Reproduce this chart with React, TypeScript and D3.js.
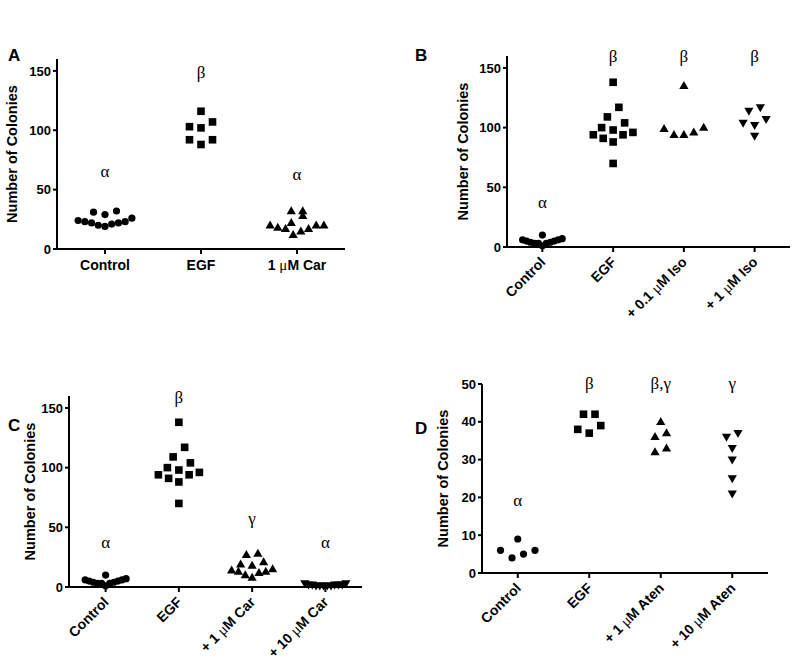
import React from 'react';
import * as d3 from 'd3';

// panel A
const aCategories = ['Control', 'EGF', '1 μM Car'];
const aControl = [26, 23, 31, 22, 22, 29, 19, 20, 32, 21, 23, 24];
const aEgf = [116, 107, 103, 102, 92, 92, 88];
const aCar = [20, 18, 17, 28, 12, 32, 22, 15, 17, 32, 20, 20];
const aLetters = ['α', 'β', 'α'];
const aLetterY = [61, 144, 58];

// panel B
const bCategories = ['Control', 'EGF', '+ 0.1 μM Iso', '+ 1 μM Iso'];
const bControl = [6, 5, 4, 7, 3, 3, 1, 10, 3, 4, 5, 6];
const bEgf = [138, 117, 109, 104, 100, 98, 96, 94, 94, 91, 88, 70];
const bIso01 = [135, 100, 96, 94, 94, 99];
const bIso1 = [114, 117, 107, 104, 102, 93];
const bLetters = ['α', 'β', 'β', 'β'];
const bLetterY = [33, 155, 155, 155];

// panel C
const cCategories = ['Control', 'EGF', '+ 1 μM Car', '+ 10 μM Car'];
const cControl = [6, 5, 4, 7, 3, 3, 1, 10, 3, 4, 5, 6];
const cEgf = [138, 117, 109, 104, 100, 98, 96, 94, 94, 91, 88, 70];
const cCar1 = [28, 27, 21, 19, 18, 15, 14, 13, 13, 12, 10, 8];
const cCar10 = [1, 2, 1, 3, 2, 1, 2, 3, 1, 2, 1, 2];
const cLetters = ['α', 'β', 'γ', 'α'];
const cLetterY = [33, 154, 53, 33];

// panel D
const dCategories = ['Control', 'EGF', '+ 1 μM Aten', '+ 10 μM Aten'];
const dControl = [6, 4, 9, 5, 6];
const dEgf = [39, 42, 42, 37, 38];
const dAten1 = [40, 37, 36, 32, 33];
const dAten10 = [37, 36, 33, 30, 25, 21];
const dLetters = ['α', 'β', 'β,γ', 'γ'];
const dLetterY = [17.8, 48.7, 48.7, 48.7];

const yTitle = 'Number of Colonies';
const sans = '"Liberation Sans", Arial, sans-serif';
const serif = '"Liberation Serif", "Times New Roman", serif';

type Shape = 'circle' | 'square' | 'up' | 'down';

// GraphPad-like column scatter: bin into rows, spread each row centre-out
function swarm(values: number[], y: (v: number) => number, cx: number, maxWidth: number) {
  const rowH = 10;
  const pref = 11.5;
  const order = values.map((v, i) => i).sort((a, b) => values[a] - values[b]);
  const rows: number[][] = [];
  order.forEach(i => {
    const row = rows[rows.length - 1];
    if (!row || y(values[row[0]]) - y(values[i]) > rowH) rows.push([i]);
    else row.push(i);
  });
  const xs: number[] = new Array(values.length);
  rows.forEach(row => {
    const n = row.length;
    const sp = n > 1 ? Math.min(pref, maxWidth / (n - 1)) : 0;
    row.forEach((i, k) => {
      let slot;
      if (n % 2 === 1) slot = k === 0 ? 0 : (k % 2 === 1 ? -1 : 1) * Math.ceil(k / 2);
      else slot = (k % 2 === 0 ? -1 : 1) * (Math.floor(k / 2) + 0.5);
      xs[i] = cx + slot * sp;
    });
  });
  return xs;
}

function Marker({ shape, x, y }: { shape: Shape; x: number; y: number }) {
  if (shape === 'circle') return <circle cx={x} cy={y} r={3.6} fill="#000" />;
  if (shape === 'square') return <rect x={x - 3.8} y={y - 3.8} width={7.6} height={7.6} fill="#000" />;
  if (shape === 'up')
    return <path d={`M${x},${y - 4.8}L${x + 4.6},${y + 3.2}L${x - 4.6},${y + 3.2}Z`} fill="#000" />;
  return <path d={`M${x},${y + 4.8}L${x + 4.6},${y - 3.2}L${x - 4.6},${y - 3.2}Z`} fill="#000" />;
}

// category label, with the mu set in a plain serif like the original
function CatLabel({ text }: { text: string }) {
  const parts = text.split('μ');
  return (
    <>
      {parts.map((p, i) => (
        <React.Fragment key={i}>
          {i > 0 && (
            <tspan fontFamily={serif} fontWeight="normal" fontSize={15}>
              μ
            </tspan>
          )}
          <tspan fontWeight="bold">{p}</tspan>
        </React.Fragment>
      ))}
    </>
  );
}

interface PanelProps {
  letter: string;
  letterX: number;
  letterY: number;
  x0: number;
  x1: number;
  yBottom: number;
  yTop: number;
  yMax: number;
  ticks: number[];
  categories: string[];
  series: number[][];
  shapes: Shape[];
  letters: string[];
  lettersY: number[];
  rotate: boolean;
  titleOffset: number;
}

function Panel(p: PanelProps) {
  const y = d3.scaleLinear().domain([0, p.yMax]).range([p.yBottom, p.yTop]);
  const x = d3.scalePoint<string>().domain(p.categories).range([p.x0, p.x1]).padding(0.5);
  const maxW = x.step() * 0.56;
  const midY = (p.yBottom + p.yTop) / 2;
  return (
    <g>
      <text x={p.letterX} y={p.letterY} fontFamily={sans} fontWeight="bold" fontSize={17}>
        {p.letter}
      </text>
      {/* axes */}
      <line x1={p.x0} x2={p.x0} y1={p.yTop} y2={p.yBottom + 1} stroke="#000" strokeWidth={2} />
      <line x1={p.x0 - 1} x2={p.x1} y1={p.yBottom} y2={p.yBottom} stroke="#000" strokeWidth={2} />
      {p.ticks.map(t => (
        <g key={t}>
          <line x1={p.x0 - 4} x2={p.x0} y1={y(t)} y2={y(t)} stroke="#000" strokeWidth={2} />
          <text
            x={p.x0 - 6}
            y={y(t)}
            dy="0.36em"
            textAnchor="end"
            fontFamily={sans}
            fontWeight="bold"
            fontSize={13}
          >
            {t}
          </text>
        </g>
      ))}
      <text
        transform={`translate(${p.x0 - p.titleOffset},${midY}) rotate(-90)`}
        dy="0.36em"
        textAnchor="middle"
        fontFamily={sans}
        fontWeight="bold"
        fontSize={14.5}
      >
        {yTitle}
      </text>
      {p.categories.map((c, i) => {
        const cx = x(c)!;
        const xs = swarm(p.series[i], y, cx, maxW);
        return (
          <g key={c}>
            <line x1={cx} x2={cx} y1={p.yBottom} y2={p.yBottom + 5} stroke="#000" strokeWidth={2} />
            {p.rotate ? (
              <text
                transform={`translate(${cx + 4},${p.yBottom + 16}) rotate(-45)`}
                textAnchor="end"
                fontFamily={sans}
                fontSize={14}
              >
                <CatLabel text={c} />
              </text>
            ) : (
              <text x={cx} y={p.yBottom + 21} textAnchor="middle" fontFamily={sans} fontSize={14}>
                <CatLabel text={c} />
              </text>
            )}
            {p.series[i].map((v, j) => (
              <Marker key={j} shape={p.shapes[i]} x={xs[j]} y={y(v)} />
            ))}
            <text x={cx} y={y(p.lettersY[i])} textAnchor="middle" fontFamily={serif} fontSize={17}>
              {p.letters[i]}
            </text>
          </g>
        );
      })}
    </g>
  );
}

export default function App() {
  return (
    <svg
      width={800}
      height={665}
      style={{ position: 'absolute', left: 0, top: 0, background: '#fff' }}
    >
      <rect width={800} height={665} fill="#fff" />
      <Panel
        letter="A"
        letterX={8}
        letterY={61}
        x0={57}
        x1={345}
        yBottom={249}
        yTop={59}
        yMax={160}
        ticks={[0, 50, 100, 150]}
        categories={aCategories}
        series={[aControl, aEgf, aCar]}
        shapes={['circle', 'square', 'up']}
        letters={aLetters}
        lettersY={aLetterY}
        rotate={false}
        titleOffset={45}
      />
      <Panel
        letter="B"
        letterX={415}
        letterY={61}
        x0={507}
        x1={790}
        yBottom={247}
        yTop={56}
        yMax={160}
        ticks={[0, 50, 100, 150]}
        categories={bCategories}
        series={[bControl, bEgf, bIso01, bIso1]}
        shapes={['circle', 'square', 'up', 'down']}
        letters={bLetters}
        lettersY={bLetterY}
        rotate={true}
        titleOffset={44}
      />
      <Panel
        letter="C"
        letterX={8}
        letterY={431}
        x0={69}
        x1={362}
        yBottom={587}
        yTop={396}
        yMax={160}
        ticks={[0, 50, 100, 150]}
        categories={cCategories}
        series={[cControl, cEgf, cCar1, cCar10]}
        shapes={['circle', 'square', 'up', 'down']}
        letters={cLetters}
        lettersY={cLetterY}
        rotate={true}
        titleOffset={39}
      />
      <Panel
        letter="D"
        letterX={415}
        letterY={434}
        x0={482}
        x1={768}
        yBottom={573}
        yTop={384}
        yMax={50}
        ticks={[0, 10, 20, 30, 40, 50]}
        categories={dCategories}
        series={[dControl, dEgf, dAten1, dAten10]}
        shapes={['circle', 'square', 'up', 'down']}
        letters={dLetters}
        lettersY={dLetterY}
        rotate={true}
        titleOffset={39}
      />
    </svg>
  );
}
